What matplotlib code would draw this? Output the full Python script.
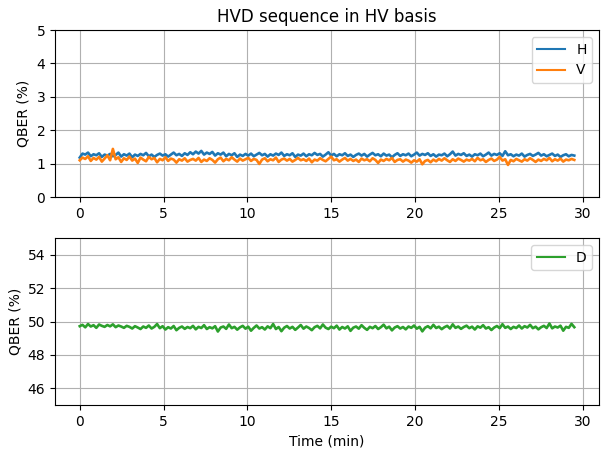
import numpy as np
import matplotlib
matplotlib.use("Agg")
import matplotlib.pyplot as plt

title = "HVD sequence in HV basis"
t_end = 29.5

qber_H = [
1.18,1.30,1.27,1.33,1.22,1.28,1.25,1.31,1.20,1.27,1.24,1.29,1.22,1.26,1.33,1.21,1.28,1.24,1.30,1.19,
1.27,1.23,1.29,1.25,1.32,1.22,1.27,1.20,1.26,1.30,1.24,1.28,1.21,1.27,1.33,1.25,1.29,1.23,1.31,1.26,
1.34,1.28,1.36,1.30,1.38,1.27,1.33,1.29,1.35,1.24,1.31,1.27,1.33,1.22,1.29,1.25,1.31,1.20,1.27,1.23,
1.29,1.24,1.30,1.22,1.27,1.32,1.25,1.29,1.21,1.28,1.24,1.30,1.26,1.33,1.23,1.28,1.25,1.31,1.20,1.27,
1.24,1.30,1.22,1.28,1.25,1.32,1.26,1.29,1.21,1.27,1.34,1.24,1.29,1.22,1.28,1.25,1.31,1.23,1.27,1.20,
1.26,1.30,1.24,1.29,1.21,1.27,1.32,1.25,1.28,1.22,1.30,1.24,1.27,1.19,1.26,1.31,1.23,1.28,1.25,1.30,
1.22,1.27,1.33,1.24,1.29,1.26,1.31,1.23,1.28,1.21,1.27,1.25,1.30,1.22,1.28,1.36,1.24,1.29,1.26,1.31,
1.23,1.27,1.21,1.28,1.25,1.30,1.22,1.27,1.33,1.24,1.29,1.26,1.31,1.23,1.37,1.25,1.28,1.22,1.27,1.24,
1.30,1.21,1.26,1.29,1.23,1.27,1.32,1.24,1.28,1.22,1.26,1.30,1.23,1.27,1.20,1.25,1.28,1.22,1.26,1.24]

qber_V = [
1.10,1.18,1.14,1.22,1.08,1.17,1.12,1.20,1.06,1.15,1.25,1.10,1.44,1.13,1.19,1.05,1.16,1.11,1.21,1.09,
1.15,1.02,1.18,1.12,1.07,1.20,1.13,1.17,1.04,1.14,1.10,1.19,1.08,1.15,1.12,1.03,1.13,1.09,1.16,1.06,
1.11,1.14,1.09,1.17,1.05,1.12,1.08,1.16,1.11,1.03,1.13,1.18,1.07,1.14,1.10,1.19,1.12,1.06,1.15,1.09,
1.13,1.17,1.08,1.14,1.11,0.99,1.12,1.16,1.07,1.13,1.10,1.18,1.05,1.12,1.15,1.09,1.14,1.06,1.11,1.17,
1.10,1.13,1.08,1.15,1.04,1.12,1.09,1.16,1.11,1.07,1.14,1.21,1.10,1.13,1.06,1.12,1.17,1.09,1.14,1.08,
1.12,1.05,1.15,1.10,1.13,1.07,1.16,1.11,1.02,1.12,1.08,1.14,1.10,1.17,1.05,1.11,1.13,1.06,1.12,1.09,
1.03,1.10,1.06,1.13,0.98,1.08,1.11,1.04,1.12,1.07,1.14,1.09,1.16,1.10,1.05,1.13,1.08,1.15,1.11,1.06,
1.12,1.09,1.14,1.07,1.17,1.10,1.13,1.05,1.11,1.15,1.08,1.12,1.20,1.09,1.13,0.96,1.11,1.07,1.14,1.10,
1.06,1.13,1.09,1.16,1.11,1.05,1.12,1.08,1.14,1.10,1.17,1.07,1.13,1.09,1.15,1.06,1.12,1.10,1.14,1.11]

qber_D = [
49.72,49.80,49.65,49.85,49.70,49.78,49.62,49.82,49.74,49.68,49.79,49.71,49.83,49.66,49.76,49.70,49.62,49.74,49.68,49.58,
49.72,49.64,49.55,49.70,49.62,49.76,49.58,49.68,49.85,49.60,49.72,49.52,49.66,49.58,49.73,49.48,49.62,49.70,49.56,49.67,
49.60,49.74,49.53,49.68,49.61,49.78,49.55,49.66,49.59,49.72,49.40,49.64,49.70,49.56,49.82,49.60,49.68,49.51,49.65,49.74,
49.57,49.69,49.45,49.62,49.76,49.58,49.66,49.52,49.71,49.60,49.85,49.55,49.67,49.42,49.63,49.73,49.58,49.68,49.50,49.64,
49.79,49.57,49.70,49.61,49.48,49.66,49.74,49.59,49.82,49.63,49.55,49.69,49.60,49.75,49.52,49.67,49.58,49.71,49.44,49.63,
49.70,49.57,49.78,49.62,49.50,49.68,49.60,49.73,49.55,49.66,49.81,49.59,49.69,49.47,49.64,49.72,49.58,49.67,49.53,49.70,
49.62,49.76,49.57,49.68,49.41,49.63,49.72,49.59,49.80,49.61,49.69,49.54,49.66,49.74,49.58,49.83,49.62,49.70,49.56,49.67,
49.75,49.60,49.69,49.52,49.71,49.63,49.78,49.58,49.66,49.49,49.64,49.73,49.60,49.84,49.62,49.70,49.55,49.68,49.61,49.76,
49.58,49.72,49.64,49.80,49.60,49.69,49.53,49.66,49.74,49.61,49.88,49.59,49.70,49.64,49.75,49.45,49.68,49.62,49.86,49.66]

t = np.linspace(0, t_end, len(qber_H))
tD = np.linspace(0, t_end, len(qber_D))

fig = plt.figure(figsize=(6.03, 4.5), dpi=100)
ax1 = fig.add_axes([0.0912, 0.5622, 0.9022, 0.3711])
ax2 = fig.add_axes([0.0912, 0.1000, 0.9022, 0.3711])

lw = 1.9
ax1.plot(t, qber_H, color="#1f77b4", label="H", lw=lw)
ax1.plot(t, qber_V, color="#ff7f0e", label="V", lw=lw)
ax1.set_ylim(0, 5)
ax1.set_ylabel("QBER (%)")
ax1.set_title(title)
ax1.grid(True)
leg1 = ax1.legend(loc="upper right")

ax2.plot(tD, qber_D, color="#2ca02c", label="D", lw=lw)
ax2.set_ylim(45, 55)
ax2.set_yticks([46, 48, 50, 52, 54])
ax2.set_ylabel("QBER (%)")
ax2.set_xlabel("Time (min)")
ax2.grid(True)
leg2 = ax2.legend(loc="upper right")

for leg in (leg1, leg2):
    for ln in leg.get_lines():
        ln.set_linewidth(1.5)

for ax in (ax1, ax2):
    ax.set_xticks([0, 5, 10, 15, 20, 25, 30])

fig.savefig("out.png", dpi=100)
